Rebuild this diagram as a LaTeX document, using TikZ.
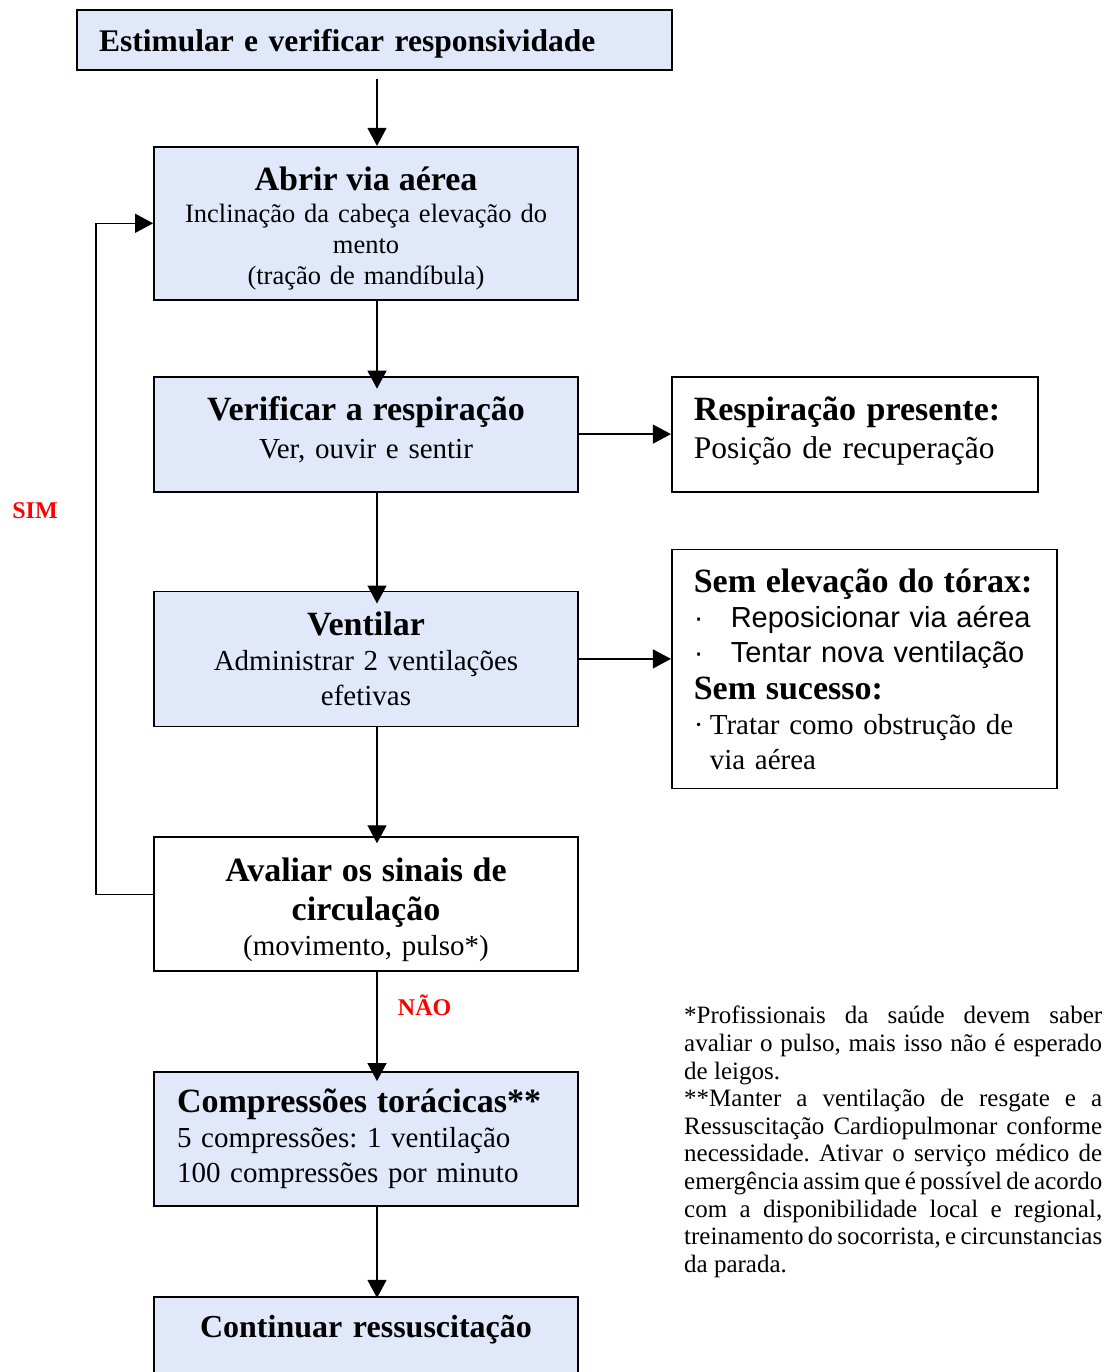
\documentclass[tikz,border=0pt]{standalone}
\usepackage{fontspec}
\setmainfont{Liberation Serif}
\newfontfamily\arialfont{Liberation Sans}
\usetikzlibrary{arrows.meta,positioning}
\definecolor{boxblue}{RGB}{224,232,250}
\newcommand{\boxtitle}{\bfseries\fontsize{34}{38}\selectfont}
\frenchspacing

\begin{document}
\begin{tikzpicture}[x=1pt, y=1pt,
  box/.style={rectangle, draw, line width=1.8pt, minimum width=424pt,
              text width=380pt, inner xsep=22pt, align=center,
              font=\fontsize{29}{35}\selectfont, text=black},
  bluebox/.style={box, fill=boxblue},
  sidebox/.style={box, minimum width=0pt, align=left},
  arrow/.style={-{Triangle[length=18pt,width=19pt]}, line width=1.3pt},
  redlabel/.style={font=\bfseries\fontsize{24}{28}\selectfont, text=red},
  node distance=75pt
]
  \useasboundingbox (0,0) rectangle (1106,-1372);

  \node[bluebox, text width=551pt, align=left, minimum height=60pt, text depth=0pt,
        font=\bfseries\fontsize{31.5}{35}\selectfont] (estim) at (374.5,-40)
        {Estimular e verificar responsividade};
  \node[bluebox, minimum height=153pt, font=\fontsize{26.5}{31}\selectfont,
        below=of estim, xshift=-8.5pt] (abrir)
        {\rule{0pt}{34pt}{\boxtitle Abrir via aérea}\\[1pt] Inclinação da cabeça elevação do\\ mento\\ (tração de mandíbula)};
  \node[bluebox, minimum height=115pt, below=of abrir] (verif)
        {{\boxtitle Verificar a respiração}\\[3pt] Ver, ouvir e sentir\rule[-13pt]{0pt}{13pt}};
  \node[sidebox, text width=322pt, minimum height=115pt, right=92pt of verif,
        font=\fontsize{31.5}{35}\selectfont] (resp)
        {{\boxtitle Respiração presente:}\\[3pt] Posição de recuperação\rule[-13.5pt]{0pt}{13.5pt}};
  \node[bluebox, minimum height=135pt, below=98pt of verif] (vent)
        {{\boxtitle Ventilar}\\ Administrar 2 ventilações\\ efetivas};
  \node[sidebox, text width=341pt, minimum height=239pt,
        right=92pt of vent, yshift=-10pt] (sem)
        {{\boxtitle Sem elevação do tórax:}\\
         {\arialfont\makebox[37pt][l]{·}Reposicionar via aérea}\\
         {\arialfont\makebox[37pt][l]{·}Tentar nova ventilação}\\[2pt]
         {\boxtitle Sem sucesso:}\\
         \makebox[16pt][l]{·}Tratar como obstrução de\\
         \hspace*{16pt}via aérea};
  \node[box, minimum height=134pt, below=109pt of vent] (aval)
        {\rule{0pt}{34pt}{\boxtitle Avaliar os sinais de}\\[4pt] {\boxtitle circulação}\\ (movimento, pulso*)};
  \node[bluebox, text width=378pt, align=left, inner xsep=23pt, minimum height=134pt,
        below=99pt of aval] (comp)
        {{\boxtitle Compressões torácicas**}\\ 5 compressões: 1 ventilação\\ 100 compressões por minuto};
  \node[bluebox, minimum height=104pt, text depth=44pt, below=89pt of comp,
        font=\bfseries\fontsize{32}{36}\selectfont] (cont)
        {Continuar ressuscitação};

  \node[anchor=north west, text width=418pt, align=justify, inner sep=0pt,
        font=\fontsize{25}{27.6}\selectfont] (nota) at (684,-1006)
        {\noindent *Profissionais da saúde devem saber\linebreak
         avaliar o pulso, mais isso não é esperado\linebreak
         de leigos.\par
         \noindent **Manter a ventilação de resgate e a\linebreak
         Ressuscitação Cardiopulmonar conforme\linebreak
         necessidade. Ativar o serviço médico de\linebreak
         emergência assim que é possível de acordo\linebreak
         com a disponibilidade local e regional,\linebreak
         treinamento do socorrista, e circunstancias\linebreak
         da parada.};

  \node[redlabel] (sim) at (35,-511) {SIM};

  \draw[arrow] ([xshift=2.5pt,yshift=-8pt]estim.south) -- ([xshift=11pt]abrir.north);
  \draw[arrow] ([xshift=11pt]abrir.south) -- ([xshift=11pt,yshift=-13pt]verif.north);
  \draw[arrow] ([xshift=11pt]verif.south) -- ([xshift=11pt,yshift=-13pt]vent.north);
  \draw[arrow] ([xshift=11pt]vent.south) -- ([xshift=11pt,yshift=-7pt]aval.north);
  \draw[arrow] ([xshift=11pt]aval.south) -- node[redlabel, pos=0.3, right=17pt] (nao) {NÃO}
               ([xshift=11pt,yshift=-10pt]comp.north);
  \draw[arrow] ([xshift=11pt]comp.south) -- ([xshift=11pt,yshift=-2pt]cont.north);
  \draw[arrow] (verif.east) -- (verif.east -| resp.west);
  \draw[arrow] (vent.east) -- (vent.east -| sem.west);
  \draw[arrow] ([yshift=10pt]aval.west) -- ++(-57pt,0) |- (abrir.west);
\end{tikzpicture}
\end{document}
